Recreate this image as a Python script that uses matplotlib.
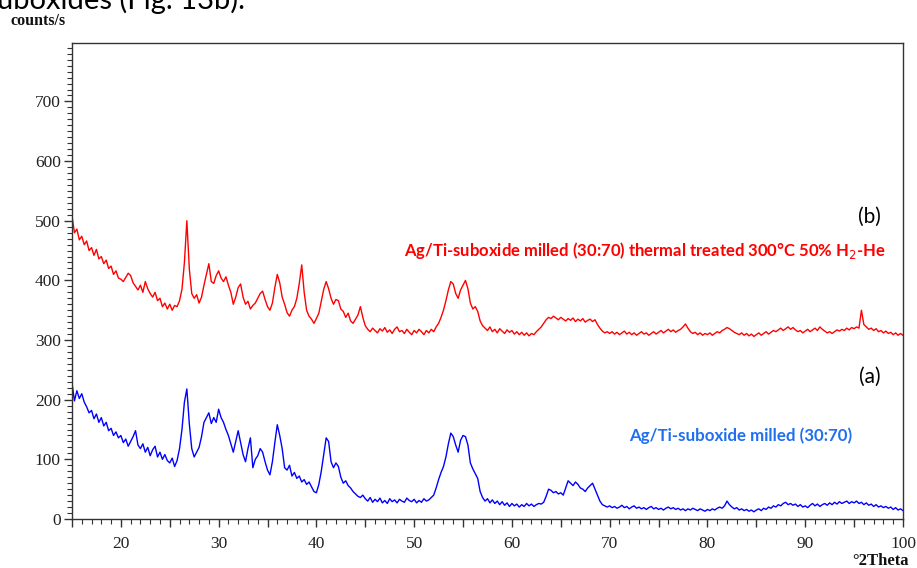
import numpy as np
import matplotlib
matplotlib.use("Agg")
import matplotlib.pyplot as plt
from matplotlib.ticker import MultipleLocator, FuncFormatter


# 2theta grid of the scans (0.25 deg steps, 15 -> 100)
deux_theta = np.arange(15.0, 100.001, 0.25)

# (b) milled + thermal treatment 300 C, 50% H2-He  (counts/s)
intensite_b = [
    508, 480, 486, 468, 474, 460, 466, 450, 455, 442, 452, 436, 440, 428, 434, 420, 424, 410, 416, 404,
    402, 398, 405, 412, 408, 396, 390, 384, 392, 380, 398, 386, 378, 372, 380, 366, 370, 356, 362, 352,
    360, 350, 358, 356, 366, 385, 430, 500, 420, 378, 370, 376, 362, 372, 392, 410, 428, 398, 395, 408,
    416, 404, 398, 406, 392, 380, 360, 372, 388, 394, 372, 360, 365, 352, 358, 362, 370, 378, 382, 368,
    356, 350, 362, 388, 410, 396, 372, 360, 346, 340, 350, 356, 370, 395, 426, 380, 350, 340, 335, 328,
    336, 345, 365, 385, 398, 386, 370, 360, 368, 366, 352, 348, 338, 345, 332, 328, 335, 342, 356, 338,
    324, 318, 314, 320, 316, 312, 319, 315, 321, 313, 317, 311, 318, 322, 314, 316, 311, 318, 313, 309,
    316, 312, 318, 314, 309, 316, 312, 318, 314, 322, 328, 338, 350, 366, 384, 398, 394, 378, 370, 384,
    392, 400, 386, 362, 352, 356, 348, 332, 324, 320, 316, 322, 314, 318, 312, 319, 315, 311, 317, 313,
    316, 310, 314, 309, 313, 308, 312, 307, 311, 309, 314, 318, 322, 328, 334, 338, 336, 340, 337, 334,
    338, 335, 332, 336, 333, 337, 331, 335, 332, 336, 330, 333, 335, 331, 334, 326, 320, 315, 312, 314,
    311, 314, 310, 313, 309, 312, 315, 310, 313, 309, 312, 308, 311, 314, 310, 312, 308, 311, 314, 310,
    313, 316, 312, 315, 318, 314, 317, 313, 316, 318, 322, 327, 320, 314, 311, 313, 309, 312, 308, 311,
    309, 312, 308, 311, 314, 312, 316, 318, 321, 319, 316, 313, 311, 309, 312, 308, 311, 307, 310, 306,
    309, 312, 308, 311, 314, 310, 313, 316, 314, 317, 320, 316, 319, 322, 318, 321, 317, 314, 316, 312,
    315, 318, 314, 317, 320, 316, 322, 318, 315, 312, 314, 311, 314, 317, 315, 318, 316, 320, 317, 321,
    319, 322, 320, 350, 326, 322, 318, 320, 316, 319, 314, 316, 312, 315, 311, 313, 309, 312, 308, 311,
    308,
]

# (a) milled only (counts/s)
intensite_a = [
    228, 198, 215, 202, 210, 196, 188, 178, 182, 168, 176, 162, 170, 156, 162, 148, 152, 140, 146, 136,
    140, 128, 134, 122, 130, 138, 148, 124, 118, 126, 112, 120, 106, 116, 122, 104, 112, 100, 108, 98,
    94, 102, 88, 98, 118, 150, 196, 218, 160, 118, 104, 112, 120, 138, 162, 170, 178, 160, 170, 162,
    184, 170, 162, 150, 140, 126, 112, 130, 148, 128, 108, 96, 118, 136, 86, 100, 106, 118, 112, 96,
    82, 74, 96, 128, 158, 140, 118, 86, 82, 90, 72, 78, 68, 72, 62, 66, 58, 62, 54, 46,
    44, 58, 80, 108, 136, 130, 96, 86, 94, 88, 70, 60, 64, 56, 52, 46, 42, 38, 36, 40,
    34, 30, 36, 28, 33, 29, 35, 27, 31, 26, 34, 29, 32, 27, 33, 30, 28, 35, 31, 29,
    33, 27, 31, 28, 34, 30, 32, 36, 40, 52, 66, 78, 88, 104, 126, 144, 138, 124, 112, 132,
    140, 138, 124, 94, 84, 76, 68, 46, 36, 30, 34, 27, 32, 26, 30, 24, 29, 23, 27, 21,
    26, 22, 25, 20, 24, 21, 26, 22, 25, 21, 24, 26, 25, 28, 38, 50, 48, 44, 46, 42,
    44, 40, 52, 64, 60, 56, 62, 58, 52, 50, 46, 52, 56, 60, 50, 40, 30, 24, 22, 20,
    22, 19, 21, 18, 20, 23, 19, 21, 17, 20, 22, 18, 20, 17, 19, 16, 19, 21, 17, 19,
    16, 18, 15, 18, 20, 17, 19, 16, 18, 15, 17, 14, 17, 15, 18, 16, 14, 17, 15, 13,
    16, 14, 17, 15, 18, 20, 18, 22, 30, 24, 20, 17, 19, 15, 17, 14, 16, 13, 15, 12,
    15, 17, 14, 18, 16, 20, 18, 22, 20, 24, 22, 26, 28, 24, 26, 23, 25, 21, 24, 20,
    22, 19, 23, 26, 22, 25, 21, 24, 26, 23, 27, 24, 28, 25, 29, 26, 28, 30, 26, 29,
    27, 30, 26, 28, 24, 27, 23, 25, 21, 24, 20, 22, 19, 21, 18, 20, 16, 19, 15, 17,
    14,
]

label_b = "Ag/Ti-suboxide milled (30:70) thermal treated 300°C 50% H$_2$-He"
label_a = "Ag/Ti-suboxide milled (30:70)"


def etiquette_x(val, pos):
    # only every 10 degrees gets a number
    return "%d" % val if int(round(val)) % 10 == 0 else ""


fig = plt.figure(figsize=(9.17, 5.68), dpi=100)
ax = fig.add_axes([0.0785, 0.0863, 0.9062, 0.838])

ax.plot(deux_theta, intensite_b, color="#ff0000", lw=1.0)
ax.plot(deux_theta, intensite_a, color="#0000ff", lw=1.0)

ax.set_xlim(15, 100)
ax.xaxis.set_major_locator(MultipleLocator(5))
ax.xaxis.set_minor_locator(MultipleLocator(1))
ax.xaxis.set_major_formatter(FuncFormatter(etiquette_x))
ax.yaxis.set_minor_locator(MultipleLocator(10))
ax.set_yticks(np.arange(0, 701, 100))
ax.set_ylim(0, 798)

ax.tick_params(which="major", length=6, width=1, color="#333333", direction="out")
ax.tick_params(which="minor", length=3.5, width=0.8, color="#333333", direction="out")
ax.tick_params(axis="x", pad=6)
ax.tick_params(axis="y", pad=2)
for lab in ax.get_xticklabels() + ax.get_yticklabels():
    lab.set_fontfamily("Liberation Serif")
    lab.set_fontsize(12.5)
    lab.set_color("#222222")
# last label is pushed inside the frame
ax.get_xticklabels()[-1].set_horizontalalignment("right")

for sp in ax.spines.values():
    sp.set_color("#333333")
    sp.set_linewidth(1)

# axis titles in the corners
fig.text(0.011, 0.963, "counts/s", fontfamily="Liberation Serif", fontweight="bold",
         fontsize=11.5, color="#111111", va="center", ha="left")
fig.text(0.991, 0.013, "°2Theta", fontfamily="Liberation Serif", fontweight="bold",
         fontsize=12, color="#111111", va="center", ha="right")

# caption line running above the figure
fig.text(-0.003, 0.984, "uboxides (Fig. 13b).", fontfamily="Lato", fontsize=21,
         color="black", va="baseline", ha="left")

ax.text(97.7, 506, "(b)", fontfamily="Lato", fontsize=15, color="black", ha="right", va="center")
ax.text(98.2, 450, label_b, fontfamily="Lato", fontweight="bold", fontsize=12,
        color="#ff0000", ha="right", va="center")
ax.text(97.7, 238, "(a)", fontfamily="Lato", fontsize=15, color="black", ha="right", va="center")
ax.text(94.8, 140, label_a, fontfamily="Lato", fontweight="bold", fontsize=12.2,
        color="#1f6ff0", ha="right", va="center")

plt.savefig("out.png", dpi=100)
plt.close()
